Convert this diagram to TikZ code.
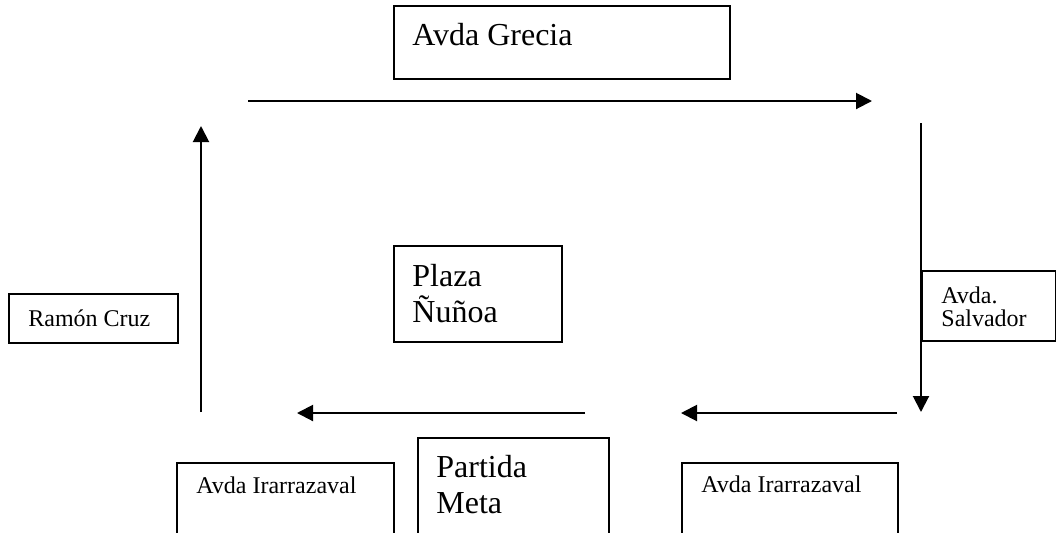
\documentclass[tikz,border=0pt]{standalone}
\usepackage{fontspec}
\setmainfont{Liberation Serif}
\usetikzlibrary{arrows.meta}
\begin{document}
\begin{tikzpicture}[x=0.5pt,y=-0.5pt,
  box/.style={draw,line width=0.75pt,inner sep=0pt,anchor=north west},
  big/.style={font=\fontsize{16}{18}\selectfont,inner sep=0pt,anchor=base west},
  small/.style={font=\fontsize{12}{14}\selectfont,inner sep=0pt,anchor=base west},
  road/.style={line width=1pt,-{Triangle[length=8pt,width=8pt]}}]
\useasboundingbox (0,0) rectangle (1056,532);
\clip (0,0) rectangle (1056,532);
% boxes
\node[box,minimum width=168pt,minimum height=36.5pt] (grecia) at (393,5) {};
\node[box,minimum width=84.5pt,minimum height=24.5pt] (ramon) at (8,293) {};
\node[box,minimum width=67pt,minimum height=35pt] (salvador) at (921,270) {};
\node[box,minimum width=84pt,minimum height=48pt] (plaza) at (393,245) {};
\node[box,minimum width=108.5pt,minimum height=49pt] (irrL) at (176,462) {};
\node[box,minimum width=95.5pt,minimum height=61.5pt] (partida) at (417,437) {};
\node[box,minimum width=108pt,minimum height=49pt] (irrR) at (681,462) {};
% texts
\node[big] (tgrecia) at (412,45) {Avda Grecia};
\node[small] (tramon) at (28,326) {Ramón Cruz};
\node[small] (tsal1) at (941,303) {Avda.};
\node[small] (tsal2) at (941,326) {Salvador};
\node[big] (tplaza1) at (412,286) {Plaza};
\node[big] (tplaza2) at (412,322) {Ñuñoa};
\node[small] (tirrL) at (196,493) {Avda Irarrazaval};
\node[small] (tirrR) at (701,492) {Avda Irarrazaval};
\node[big] (tpart1) at (436,477) {Partida};
\node[big] (tpart2) at (436,513) {Meta};
% arrow ends
\coordinate (topA) at (248,101);
\coordinate (topB) at (872,101);
\coordinate (rightA) at (921,123);
\coordinate (rightB) at (921,412);
\coordinate (brA) at (897,413);
\coordinate (brB) at (681,413);
\coordinate (blA) at (585,413);
\coordinate (blB) at (297,413);
\coordinate (leftA) at (201,412);
\coordinate (leftB) at (201,126);
\draw[road] (topA) -- (topB);
\draw[road] (rightA) -- (rightB);
\draw[road] (brA) -- (brB);
\draw[road] (blA) -- (blB);
\draw[road] (leftA) -- (leftB);
\end{tikzpicture}
\end{document}
